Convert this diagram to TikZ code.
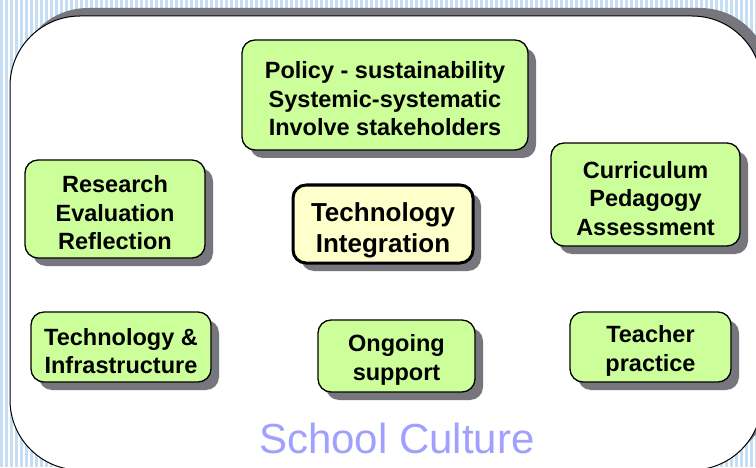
\documentclass[tikz,border=0pt]{standalone}
\usepackage{fontspec}
\setmainfont{Liberation Sans}
\usetikzlibrary{shadows}

\definecolor{stripeblue}{RGB}{197,222,245}
\definecolor{boxgreen}{RGB}{204,255,153}
\definecolor{boxyellow}{RGB}{255,255,204}
\definecolor{shadowgray}{RGB}{118,118,124}
\definecolor{culture}{RGB}{160,160,255}

\begin{document}
\begin{tikzpicture}[x=1pt,y=1pt,line join=round,
	topic/.style={draw=black,line width=1.3pt,fill=boxgreen,rounded corners=13pt,
		align=center,font=\bfseries\fontsize{23.5}{28.5}\selectfont,inner sep=0pt,
		text height=82pt,
		drop shadow={shadow xshift=8pt,shadow yshift=-8pt,fill=shadowgray,opacity=1}},
	twoline/.style={text height=53.5pt},
	core/.style={topic,fill=boxyellow,line width=3pt,text height=62pt,
		font=\bfseries\fontsize{26}{31}\selectfont}]
	\clip (0,0) rectangle (756,467);
	
	% striped backdrop
	\foreach \i in {0,5,...,755} {
		\fill[stripeblue] (\i,0) rectangle ++(3,467);
	}
	
	% the school frame
	\fill[shadowgray,rounded corners=70pt] (18,5) rectangle (770,459);
	\draw[fill=white,line width=1pt,rounded corners=70pt] (10,-3) rectangle (762,451);
	
	\node[topic,minimum width=286,minimum height=110] (policy) at (385,372)
		{Policy - sustainability\\Systemic-systematic\\Involve stakeholders};
	\node[topic,minimum width=180,minimum height=98] (research) at (115,258)
		{Research\\Evaluation\\Reflection};
	\node[topic,minimum width=189,minimum height=103] (curriculum) at (645.5,272.5)
		{Curriculum\\Pedagogy\\Assessment};
	\node[core,minimum width=180,minimum height=78] (integration) at (383,243)
		{Technology\\Integration};
	\node[topic,twoline,minimum width=180,minimum height=70] (infra) at (121,120)
		{Technology \&\\Infrastructure};
	\node[topic,twoline,minimum width=157,minimum height=72] (support) at (396.5,111)
		{Ongoing\\support};
	\node[topic,twoline,minimum width=161,minimum height=70] (teacher) at (650.5,120)
		{Teacher\\practice};
	
	\node[text=culture,font=\fontsize{42}{48}\selectfont] (culture) at (397,29) {School Culture};
	
\end{tikzpicture}
\end{document}
